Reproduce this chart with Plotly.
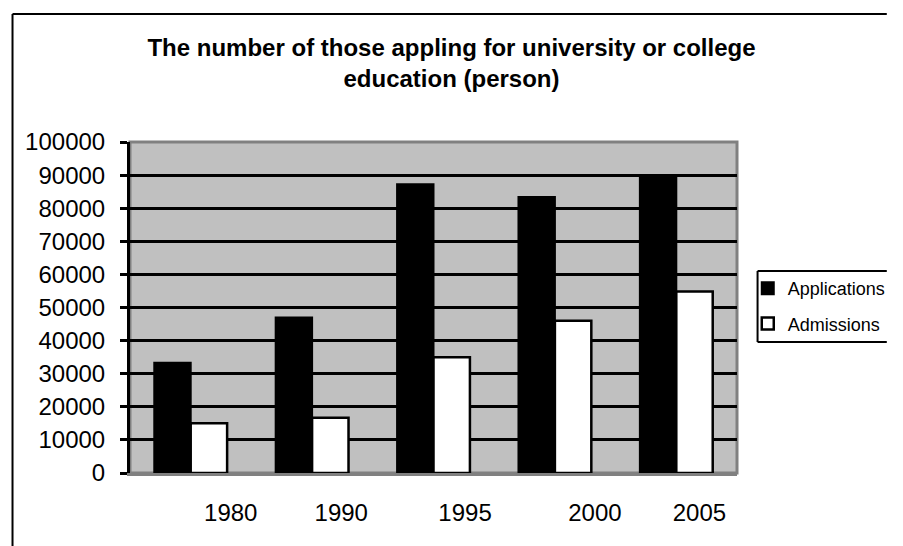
import plotly.graph_objects as go

# Data
years = ["1980", "1990", "1995", "2000", "2005"]
applications = [33300, 47000, 87200, 83400, 90000]
admissions = [15000, 16700, 35000, 46000, 54800]
y_ticks = [0, 10000, 20000, 30000, 40000, 50000, 60000, 70000, 80000, 90000, 100000]

# Layout geometry (pixels)
W, H = 903, 546
ML, MR, MT, MB = 130, 153, 142, 73
PW, PH = W - ML - MR, H - MT - MB

# Horizontal nudge of each year label relative to its bar group (category units)
label_nudge = [0.33, 0.24, 0.26, 0.33, 0.19]

positions = list(range(len(years)))
label_pos = [p + n for p, n in zip(positions, label_nudge)]


def px_x(x):
    return (x - ML) / PW


def px_y(y):
    return (H - MB - y) / PH


def hline(x0, x1, y, color="black", width=2):
    return dict(type="line", xref="paper", yref="paper",
                x0=px_x(x0), x1=px_x(x1), y0=px_y(y), y1=px_y(y),
                line=dict(color=color, width=width), layer="above")


def vline(x, y0, y1, color="black", width=2):
    return dict(type="line", xref="paper", yref="paper",
                x0=px_x(x), x1=px_x(x), y0=px_y(y0), y1=px_y(y1),
                line=dict(color=color, width=width), layer="above")


FONT = "Arial, 'Liberation Sans', sans-serif"

fig = go.Figure()
fig.add_trace(go.Bar(
    x=positions, y=applications, name="Applications",
    marker=dict(color="black", line=dict(color="black", width=2)),
    legendgroup="a",
))
fig.add_trace(go.Bar(
    x=positions, y=admissions, name="Admissions",
    marker=dict(color="white", line=dict(color="black", width=2.5)),
    legendgroup="b",
))

shapes = [
    # plot-area frame (grey)
    dict(type="rect", xref="paper", yref="paper", x0=0, x1=1, y0=0, y1=1,
         line=dict(color="#808080", width=3), layer="between"),
    # outer chart border (top and left edges; the rest runs off the canvas)
    hline(10, W, 14),
    vline(10, 14, H),
    # legend box (open on the right where it meets the canvas edge)
    hline(771, W, 271),
    hline(771, W, 342),
    vline(771, 271, 342),
]

fig.update_layout(
    width=W, height=H,
    margin=dict(l=ML, r=MR, t=MT, b=MB, pad=0),
    paper_bgcolor="white",
    plot_bgcolor="#C0C0C0",
    font=dict(family=FONT, color="black", size=24),
    barmode="group",
    bargap=0.4,
    bargroupgap=0,
    title=dict(
        text="<b>The number of those appling for university or college<br>education (person)</b>",
        x=0.5, xref="container", xanchor="center",
        y=1 - 56 / H, yref="container", yanchor="middle",
        font=dict(family=FONT, size=24, color="black"),
    ),
    xaxis=dict(
        range=[-0.5, len(years) - 0.5],
        tickvals=label_pos, ticktext=years,
        showgrid=False, zeroline=False,
        showline=True, linecolor="#808080", linewidth=3,
        ticks="", ticklabelstandoff=16,
        tickfont=dict(family=FONT, size=24, color="black"),
        fixedrange=True,
    ),
    yaxis=dict(
        range=[0, 100000],
        tickvals=y_ticks, ticktext=[str(v) for v in y_ticks],
        showgrid=True, gridcolor="black", gridwidth=3,
        zeroline=False,
        showline=True, linecolor="black", linewidth=3,
        ticks="outside", ticklen=7, tickwidth=3, tickcolor="black",
        ticklabelstandoff=10,
        tickfont=dict(family=FONT, size=24, color="black"),
        fixedrange=True,
    ),
    legend=dict(
        x=px_x(761), xanchor="left",
        y=px_y(270), yanchor="top",
        bgcolor="rgba(0,0,0,0)", borderwidth=0,
        font=dict(family=FONT, size=18, color="black"),
        traceorder="grouped", tracegroupgap=9,
    ),
    shapes=shapes,
    showlegend=True,
)

# The page should hold the figure edge to edge.
fig.write_html(
    "out.html",
    config={"displayModeBar": False},
    post_script="document.body.style.margin='0px';document.body.style.overflow='hidden';",
)
